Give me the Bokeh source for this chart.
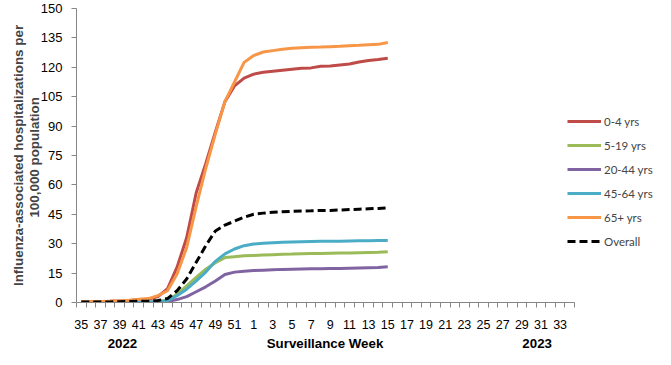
from bokeh.plotting import figure
from bokeh.models import FixedTicker, Legend, LegendItem, Range1d, LinearAxis
from bokeh.embed import file_html
from bokeh.resources import INLINE

weeks = list(range(35, 53)) + list(range(1, 35))
data_weeks = list(range(35, 53)) + list(range(1, 16))

age_0_4 = [0.3, 0.4, 0.5, 0.6, 0.8, 1.0, 1.3, 1.6, 3.0, 7.0, 18.0, 33.0, 56.0, 71.0, 87.0, 102.5, 110.5, 114.5,
           116.5, 117.5, 118.0, 118.5, 119.0, 119.5, 119.7, 120.5, 120.7, 121.2, 121.7, 122.7, 123.5, 124.0, 124.6]
age_5_19 = [0.1, 0.1, 0.1, 0.1, 0.2, 0.2, 0.3, 0.3, 0.5, 1.3, 4.2, 8.5, 12.8, 17.0, 20.3, 22.9, 23.4, 23.8,
            24.0, 24.2, 24.4, 24.6, 24.7, 24.9, 25.0, 25.0, 25.1, 25.2, 25.3, 25.4, 25.5, 25.6, 25.9]
age_20_44 = [0.05, 0.05, 0.05, 0.1, 0.1, 0.1, 0.1, 0.15, 0.2, 0.5, 1.5, 3.0, 5.5, 8.0, 11.0, 14.3, 15.5, 16.0,
             16.3, 16.5, 16.7, 16.9, 17.0, 17.1, 17.2, 17.2, 17.3, 17.4, 17.5, 17.6, 17.7, 17.8, 18.2]
age_45_64 = [0.05, 0.05, 0.1, 0.1, 0.1, 0.15, 0.2, 0.2, 0.3, 1.0, 3.5, 6.8, 11.0, 15.5, 21.0, 24.8, 27.3, 29.0,
             29.8, 30.2, 30.5, 30.7, 30.9, 31.0, 31.1, 31.2, 31.3, 31.3, 31.4, 31.5, 31.5, 31.6, 31.6]
age_65p = [0.3, 0.4, 0.5, 0.7, 0.9, 1.2, 1.6, 2.0, 3.5, 6.0, 14.5, 28.0, 49.0, 68.5, 86.0, 102.5, 112.5, 122.5,
           126.0, 127.8, 128.5, 129.2, 129.7, 130.0, 130.2, 130.3, 130.5, 130.7, 131.0, 131.2, 131.5, 131.7, 132.7]
overall = [0.2, 0.2, 0.3, 0.3, 0.4, 0.5, 0.6, 0.7, 1.0, 2.0, 6.0, 12.0, 20.5, 29.0, 36.5, 39.5, 41.5, 43.5,
           45.0, 45.6, 46.0, 46.3, 46.5, 46.7, 46.8, 47.0, 47.0, 47.2, 47.4, 47.6, 47.8, 48.0, 48.3]

series_names = ["0-4 yrs", "5-19 yrs", "20-44 yrs", "45-64 yrs", "65+ yrs", "Overall"]
series_vals = [age_0_4, age_5_19, age_20_44, age_45_64, age_65p, overall]
colors = ["#BE4B48", "#9BBB59", "#8064A2", "#4BACC6", "#F79646", "#000000"]
y_ticks = list(range(0, 151, 15))
bottom_titles = {4.3: "2022", 25.45: "Surveillance Week", 47.6: "2023"}

x_idx = [weeks.index(w) for w in data_weeks]

p = figure(frame_width=498, frame_height=294, output_backend="svg", toolbar_location=None,
           x_range=Range1d(-0.5, len(weeks) - 0.5), y_range=Range1d(0, 150),
           min_border_left=70, min_border_top=8, min_border_bottom=2, min_border_right=2,
           margin=(0, 0, 0, 6))
p.outline_line_color = None
p.grid.grid_line_color = None
p.background_fill_color = "white"

items = []
for name, vals, c in zip(series_names, series_vals, colors):
    if name == "Overall":
        r = p.line(x_idx, vals, line_color=c, line_width=3, line_dash="8 4")
    else:
        r = p.line(x_idx, vals, line_color=c, line_width=3)
    items.append(LegendItem(label=name, renderers=[r]))

label_idx = list(range(0, len(weeks), 2))
p.xaxis.ticker = FixedTicker(ticks=label_idx, minor_ticks=[i - 0.5 for i in range(len(weeks) + 1)])
p.xaxis.major_label_overrides = {i: str(weeks[i]) for i in label_idx}
p.xaxis.major_tick_line_color = None
p.xaxis.major_tick_out = 5
p.xaxis.major_tick_in = 0
p.xaxis.minor_tick_line_color = "#868686"
p.xaxis.minor_tick_out = 5
p.xaxis.minor_tick_in = 0
p.xaxis.axis_line_color = "#868686"
p.xaxis.major_label_text_font = "Liberation Sans"
p.xaxis.major_label_text_font_size = "12.5px"
p.xaxis.major_label_text_color = "#000000"
p.xaxis.major_label_standoff = 12

xa2 = LinearAxis(ticker=FixedTicker(ticks=list(bottom_titles.keys())),
                 major_label_overrides=bottom_titles)
xa2.axis_line_color = None
xa2.major_tick_line_color = None
xa2.minor_tick_line_color = None
xa2.major_tick_out = 0
xa2.major_tick_in = 0
xa2.major_label_standoff = 4
xa2.major_label_text_font = "Liberation Sans"
xa2.major_label_text_font_style = "bold"
xa2.major_label_text_font_size = "13.3px"
xa2.major_label_text_color = "#000000"
p.add_layout(xa2, "below")

p.yaxis.ticker = FixedTicker(ticks=y_ticks)
p.yaxis.minor_tick_line_color = None
p.yaxis.major_tick_line_color = "#868686"
p.yaxis.major_tick_out = 5
p.yaxis.major_tick_in = 0
p.yaxis.axis_line_color = "#868686"
p.yaxis.major_label_text_font = "Liberation Sans"
p.yaxis.major_label_text_font_size = "13px"
p.yaxis.major_label_text_color = "#000000"
p.yaxis.major_label_standoff = 9
p.yaxis.axis_label = "Influenza-associated hospitalizations per\n100,000  population"
p.yaxis.axis_label_text_font = "Liberation Sans"
p.yaxis.axis_label_text_font_style = "bold"
p.yaxis.axis_label_text_font_size = "13.4px"
p.yaxis.axis_label_text_line_height = 1.08
p.yaxis.axis_label_standoff = -4

legend = Legend(items=items, location=(-7, 51), orientation="vertical",
                label_text_font="Lato", label_text_font_size="11.5px",
                glyph_width=34, glyph_height=20, label_height=20, spacing=4,
                label_standoff=3, padding=0, margin=0, border_line_color=None,
                background_fill_alpha=0)
p.add_layout(legend, "right")

open("out.html", "w").write(file_html(p, INLINE))
